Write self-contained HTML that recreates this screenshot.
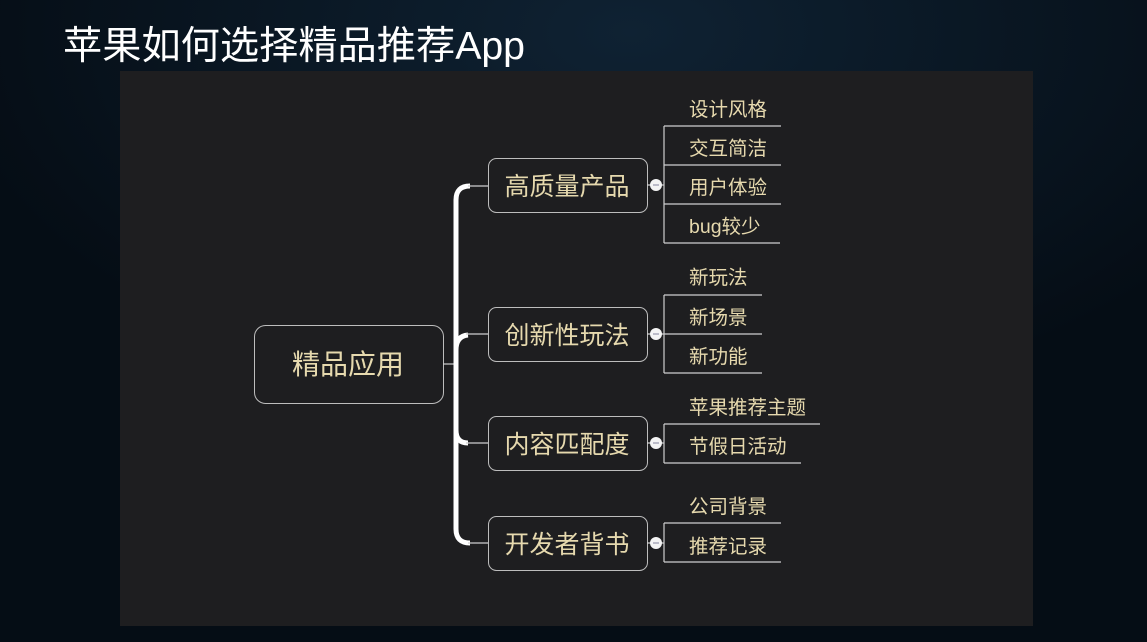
<!DOCTYPE html>
<html><head><meta charset="utf-8"><style>
html,body{margin:0;padding:0;width:1147px;height:642px;overflow:hidden;background:#06111b;}
svg{display:block}
text{font-family:"Liberation Sans","Noto Sans CJK SC",sans-serif;}
</style></head><body>
<svg width="1147" height="642" viewBox="0 0 1147 642">
<defs><radialGradient id="g" cx="0.55" cy="0.05" r="0.6"><stop offset="0" stop-color="#0f2233"/><stop offset="1" stop-color="#050d15"/></radialGradient></defs>
<rect width="1147" height="642" fill="url(#g)"/>
<text x="63" y="59" font-size="39" fill="#ffffff" textLength="462" lengthAdjust="spacingAndGlyphs">苹果如何选择精品推荐App</text>
<rect x="120" y="71" width="913" height="555" fill="#1e1e20"/>
<rect x="254.5" y="325.5" width="189" height="78" rx="11" fill="#1e1e20" stroke="#bdbdbd" stroke-width="1"/>
<text x="348" y="374" font-size="28" fill="#e6d9ae" text-anchor="middle">精品应用</text>
<line x1="443" y1="364" x2="456" y2="364" stroke="#cfcfcf" stroke-width="1.2"/>
<g fill="none" stroke="#ffffff" stroke-width="5">
<path d="M456 364 V200 Q456 186 470 186"/>
<path d="M456 364 V529 Q456 543 470 543"/>
<path d="M456 350 Q456 336 468 335"/>
<path d="M456 430 Q456 443 468 443"/>
</g>
<g stroke="#cfcfcf" stroke-width="1.2">
<line x1="468" y1="186" x2="488" y2="186"/>
<line x1="466" y1="334" x2="488" y2="334"/>
<line x1="466" y1="443" x2="488" y2="443"/>
<line x1="468" y1="543" x2="488" y2="543"/>
</g>
<g fill="#1e1e20" stroke="#bdbdbd" stroke-width="1">
<rect x="488.5" y="158.5" width="159" height="54" rx="8"/>
<rect x="488.5" y="307.5" width="159" height="54" rx="8"/>
<rect x="488.5" y="416.5" width="159" height="54" rx="8"/>
<rect x="488.5" y="516.5" width="159" height="54" rx="8"/>
</g>
<g font-size="25" fill="#e6d9ae" text-anchor="middle">
<text x="567" y="195">高质量产品</text>
<text x="567" y="344">创新性玩法</text>
<text x="567" y="453">内容匹配度</text>
<text x="567" y="553">开发者背书</text>
</g>
<g stroke="#cfcfcf" stroke-width="1.2" fill="none">
<line x1="647" y1="185" x2="664" y2="185"/>
<line x1="647" y1="334" x2="664" y2="334"/>
<line x1="647" y1="443" x2="664" y2="443"/>
<line x1="647" y1="543" x2="664" y2="543"/>
<path d="M664 126 V243 M664 126 H781 M664 165 H781 M664 204 H781 M664 243 H780"/>
<path d="M664 295 V373 M664 295 H762 M664 334 H762 M664 373 H762"/>
<path d="M664 424 V463 M664 424 H820 M664 463 H801"/>
<path d="M664 523 V562 M664 523 H781 M664 562 H781"/>
</g>
<g fill="#f4f4f4">
<circle cx="656" cy="185" r="6"/><circle cx="656" cy="334" r="6"/><circle cx="656" cy="443" r="6"/><circle cx="656" cy="543" r="6"/>
</g>
<g stroke="#aab" stroke-width="1.5">
<line x1="653" y1="185" x2="659" y2="185"/><line x1="653" y1="334" x2="659" y2="334"/><line x1="653" y1="443" x2="659" y2="443"/><line x1="653" y1="543" x2="659" y2="543"/>
</g>
<g font-size="19.5" fill="#e6d9ae">
<text x="689" y="116">设计风格</text>
<text x="689" y="155">交互简洁</text>
<text x="689" y="194">用户体验</text>
<text x="689" y="233">bug较少</text>
<text x="689" y="284">新玩法</text>
<text x="689" y="324">新场景</text>
<text x="689" y="363">新功能</text>
<text x="689" y="414">苹果推荐主题</text>
<text x="689" y="453">节假日活动</text>
<text x="689" y="513">公司背景</text>
<text x="689" y="553">推荐记录</text>
</g>
</svg>
</body></html>
